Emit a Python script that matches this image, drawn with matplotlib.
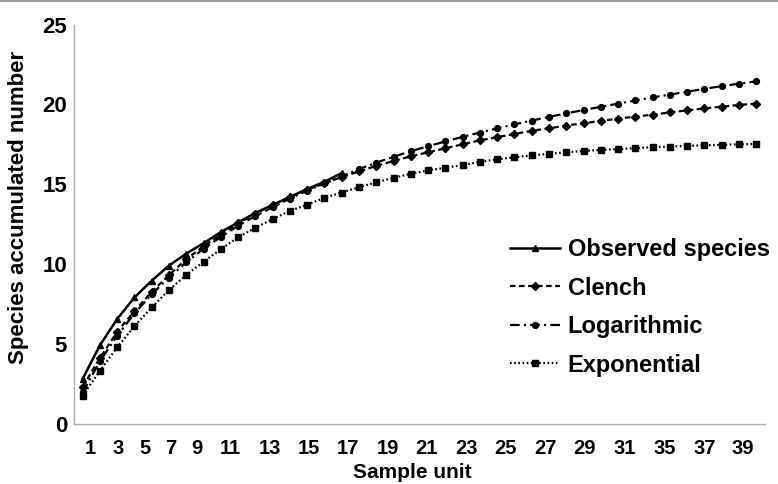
import matplotlib
matplotlib.use('Agg')
from matplotlib import pyplot as plt
from matplotlib.lines import Line2D

plt.rcParams['font.family'] = ['Liberation Sans', 'DejaVu Sans']
plt.rcParams['font.weight'] = 'bold'
plt.rcParams['lines.scale_dashes'] = False

# sample units (40 points), observed data stops at unit 16
units = list(range(1, 41))
observed = [2.8, 4.9, 6.55, 7.9, 8.95, 9.9, 10.65, 11.3, 12.0, 12.6, 13.2, 13.7,
            14.2, 14.7, 15.15, 15.7]
clench = [2.3, 4.1, 5.75, 7.05, 8.25, 9.3, 10.3, 11.1, 11.85, 12.55, 13.15, 13.7,
          14.2, 14.65, 15.05, 15.45, 15.8, 16.15, 16.45, 16.75, 17.0, 17.25, 17.5,
          17.75, 17.95, 18.15, 18.35, 18.5, 18.68, 18.82, 18.97, 19.11, 19.24, 19.36,
          19.5, 19.63, 19.75, 19.86, 19.97, 20.05]
logarithmic = [1.95, 3.9, 5.5, 6.9, 8.1, 9.15, 10.1, 10.95, 11.7, 12.4, 13.0, 13.55,
               14.1, 14.6, 15.05, 15.5, 15.95, 16.35, 16.72, 17.07, 17.38, 17.68,
               17.97, 18.24, 18.5, 18.75, 18.99, 19.22, 19.44, 19.65, 19.85, 20.05,
               20.25, 20.44, 20.62, 20.8, 20.98, 21.15, 21.3, 21.45]
exponential = [1.75, 3.3, 4.78, 6.1, 7.28, 8.37, 9.31, 10.14, 10.92, 11.67, 12.27,
               12.81, 13.33, 13.71, 14.15, 14.48, 14.81, 15.12, 15.4, 15.65, 15.87,
               16.03, 16.2, 16.4, 16.56, 16.69, 16.81, 16.9, 17.0, 17.08, 17.15, 17.2,
               17.26, 17.32, 17.36, 17.4, 17.44, 17.47, 17.5, 17.52]
tick_labels = ['1', '3', '5', '7', '9', '11', '13', '15', '17', '19', '21', '23',
               '25', '27', '29', '31', '35', '37', '39']
# label positions follow the (unevenly spaced) labels of the original
tick_pos = [1.43, 3.05, 4.61, 6.12, 7.62, 9.53, 11.85, 14.1, 16.36, 18.68, 20.93,
            23.25, 25.51, 27.82, 30.08, 32.4, 34.71, 37.03, 39.23]

fig = plt.figure(figsize=(7.78, 4.84), dpi=100)
ax = fig.add_axes([0.0951, 0.125, 0.888, 0.824])

ax.plot(units, exponential, color='black', lw=1.6, dashes=(1.2, 1.8),
        marker='s', ms=5, label='Exponential')
ax.plot(units, logarithmic, color='black', lw=1.6, dashes=(7, 3, 1.5, 3),
        marker='o', ms=4.2, label='Logarithmic')
ax.plot(units, clench, color='black', lw=1.6, dashes=(4, 2.5),
        marker='D', ms=3.6, label='Clench')
ax.plot(units[:len(observed)], observed, color='black', lw=1.8,
        marker='^', ms=4.5, label='Observed species')

ax.set_xlim(0.5, 40.5)
ax.set_ylim(0, 25)
ax.set_yticks([0, 5, 10, 15, 20, 25])
ax.set_xticks(tick_pos)
ax.set_xticklabels(tick_labels)
ax.tick_params(axis='both', length=0)
ax.tick_params(axis='y', labelsize=16, pad=5)
ax.tick_params(axis='x', labelsize=14.5, pad=11)
for s in ['top', 'right']:
    ax.spines[s].set_visible(False)
for s in ['left', 'bottom']:
    ax.spines[s].set_color('#aaaaaa')
    ax.spines[s].set_linewidth(1.0)

fig.text(19 / 778, 1 - 207 / 484, 'Species accumulated number', rotation=90,
         ha='center', va='center', fontsize=16, fontweight='bold')
fig.text(412 / 778, 1 - 472 / 484, 'Sample unit', ha='center', va='center',
         fontsize=15, fontweight='bold')

handles, labels = ax.get_legend_handles_labels()
order = [3, 2, 1, 0]
ax.legend([handles[i] for i in order], [labels[i] for i in order],
          loc='upper left', bbox_to_anchor=(510 / 778, 1 - 238 / 484),
          bbox_transform=fig.transFigure, frameon=False, fontsize=17,
          numpoints=1, handlelength=2.1, handletextpad=0.35, labelspacing=0.66,
          borderpad=0, borderaxespad=0)

fig.add_artist(Line2D([0, 1], [0.998, 0.998], transform=fig.transFigure,
                      color='#999999', lw=1.5))

fig.savefig('out.png', dpi=100)
